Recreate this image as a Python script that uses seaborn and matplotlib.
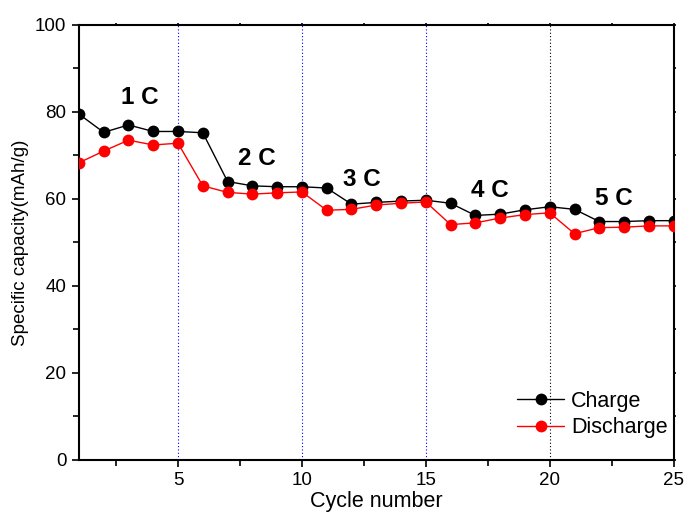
import matplotlib
matplotlib.use('Agg')
import matplotlib.pyplot as plt
import seaborn as sns
import pandas as pd
from matplotlib.ticker import MultipleLocator

cycles = list(range(1, 26))
charge = [79.5, 75.3, 77.0, 75.5, 75.5, 75.2, 64.0, 63.0, 62.8, 62.8,
          62.5, 58.8, 59.2, 59.5, 59.7, 59.0, 56.2, 56.5, 57.5, 58.2,
          57.6, 54.8, 54.8, 55.0, 55.0]
discharge = [68.3, 71.0, 73.5, 72.4, 72.8, 63.0, 61.5, 61.1, 61.4, 61.6,
             57.4, 57.6, 58.6, 59.0, 59.3, 54.1, 54.5, 55.6, 56.4, 56.8,
             52.0, 53.4, 53.5, 53.8, 53.8]
rate_labels = ['1 C', '2 C', '3 C', '4 C', '5 C']
rate_x = [3.45, 8.2, 12.4, 17.6, 22.6]
rate_y = [83.4, 69.4, 64.4, 62.0, 60.2]
boundaries = [5, 10, 15, 20]
boundary_colors = ['blue', 'blue', 'blue', 'black']

df = pd.DataFrame({'cycle': cycles * 2,
                   'capacity': charge + discharge,
                   'series': ['Charge'] * 25 + ['Discharge'] * 25})

sns.set_style('ticks')
plt.rcParams['font.family'] = ['Liberation Sans', 'DejaVu Sans']
for k in ['text.color', 'axes.labelcolor', 'xtick.color', 'ytick.color', 'axes.edgecolor']:
    plt.rcParams[k] = 'black'

fig, ax = plt.subplots(figsize=(6.86, 5.18), dpi=100)
fig.subplots_adjust(left=0.115, right=0.982, top=0.952, bottom=0.112)

# rate boundaries
for xb, c in zip(boundaries, boundary_colors):
    ax.axvline(xb, color=c, linestyle=(0, (1, 2)), linewidth=0.8, zorder=1)

sns.lineplot(data=df, x='cycle', y='capacity', hue='series',
             palette={'Charge': 'black', 'Discharge': 'red'},
             marker='o', markersize=8.5, markeredgewidth=0, linewidth=1,
             ax=ax, zorder=3)

for lab, xx, yy in zip(rate_labels, rate_x, rate_y):
    ax.text(xx, yy, lab, fontsize=17.5, fontweight='bold', ha='center', va='center')

ax.set_xlim(1, 25)
ax.set_ylim(0, 100)
ax.xaxis.set_major_locator(MultipleLocator(5))
ax.xaxis.set_minor_locator(MultipleLocator(2.5))
ax.yaxis.set_major_locator(MultipleLocator(20))
ax.yaxis.set_minor_locator(MultipleLocator(10))
ax.tick_params(which='both', direction='out', labelsize=13.5, width=1.2,
               top=True, right=True, labeltop=False, labelright=False)
ax.tick_params(which='major', length=5, pad=4)
ax.tick_params(which='minor', length=4)
# tiny ticks on the mirrored spines
for t in ax.xaxis.get_major_ticks() + ax.xaxis.get_minor_ticks():
    t.tick2line.set_markersize(1.5)
for t in ax.yaxis.get_major_ticks() + ax.yaxis.get_minor_ticks():
    t.tick2line.set_markersize(1.5)
for s in ax.spines.values():
    s.set_linewidth(1.5)
    s.set_visible(True)

ax.set_xlabel('Cycle number', fontsize=15.5, labelpad=1)
ax.set_ylabel('Specific capacity(mAh/g)', fontsize=13.5, labelpad=4)

ax.legend(loc='lower right', frameon=False, fontsize=15.5,
          handlelength=2.2, handletextpad=0.3, borderaxespad=0.3,
          labelspacing=0.25, bbox_to_anchor=(1.015, 0.015))

plt.savefig('out.png', dpi=100)
plt.close()
